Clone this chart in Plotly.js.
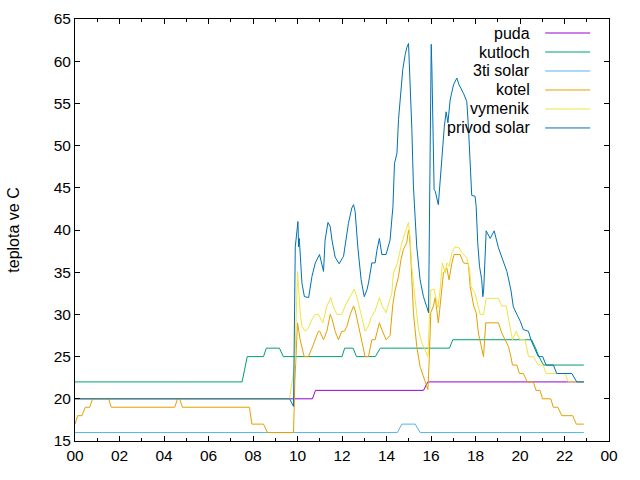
<!DOCTYPE html>
<html>
<head>
<meta charset="utf-8">
<script src="https://cdn.plot.ly/plotly-3.0.1.min.js"></script>
<style>html,body{margin:0;padding:0;background:#fff;}#chart{width:640px;height:480px;}</style>
</head>
<body>
<div id="chart"></div>
<script>
const seriesNames = ["puda", "kutloch", "3ti solar", "kotel", "vymenik", "privod solar"];
const seriesColors = ["#9400d3", "#009e73", "#56b4e9", "#e69f00", "#f0e442", "#0072b2"];

const xTickVals = [0, 2, 4, 6, 8, 10, 12, 14, 16, 18, 20, 22, 24];
const xTickText = ["00", "02", "04", "06", "08", "10", "12", "14", "16", "18", "20", "22", "00"];

const puda_t = [0, 10.67, 10.81, 15.66, 15.86, 22.87];
const puda_v = [20, 20, 21, 21, 22, 22];

const kutloch_t = [0, 7.51, 7.74, 8.47, 8.6, 9.19, 9.36, 12.0, 12.12, 12.5, 12.65, 13.5, 13.72, 16.83, 16.98, 20.52, 20.7, 20.85, 21.06, 22.87];
const kutloch_v = [22, 22, 25, 25, 26, 26, 25, 25, 26, 26, 25, 25, 26, 26, 27, 27, 26, 25, 24, 24];

const solar3_t = [0, 14.49, 14.69, 15.29, 15.51, 22.87];
const solar3_v = [16, 16, 17, 17, 16, 16];

const kotel_t = [0,0.12,0.31,0.46,0.66,0.79,1.51,1.63,4.48,4.61,4.70,4.83,7.84,7.95,8.47,8.65,9.82,9.88,10.00,10.12,10.30,10.49,10.65,10.80,10.94,11.00,11.17,11.32,11.47,11.55,11.69,11.84,11.99,12.11,12.22,12.37,12.52,12.59,12.74,12.89,13.04,13.19,13.34,13.49,13.68,13.79,13.98,14.16,14.29,14.39,14.54,14.65,14.76,14.91,14.99,15.03,15.09,15.21,15.36,15.51,15.66,15.78,15.86,15.92,15.99,16.11,16.19,16.33,16.46,16.56,16.71,16.81,16.94,17.04,17.31,17.46,17.68,17.76,17.91,18.03,18.13,18.28,18.36,18.46,19.03,19.18,19.33,19.48,19.59,19.66,19.86,19.97,20.15,20.33,20.60,20.72,20.90,21.01,21.38,21.50,21.70,21.88,22.37,22.53,22.87];
const kotel_v = [17,18,18,19,19,20,20,19,19,20,20,19,19,17,17,16,16,22,29,27,25,25,26,27,28,28,27,28,30,29.5,28,27,28,28,28.6,30,31,30.5,28.6,26.6,25,25,27,27,29,28.2,27,27.5,31.3,32.9,34.5,36.5,37.7,38.5,40,39.5,37,30.2,26.2,23.8,22.6,21.9,21.1,24.6,30.2,31,32,29,32.5,34.9,35.5,34.1,36.1,37.1,37.1,36.1,36,33.3,31.1,30.2,27.8,25.8,25,29,29,27.8,27,26.2,25,24,24,23,23,22,22,21,21,20,20,19,19,18,18,17,17];

const vymenik_t = [0,9.64,9.79,9.88,10.00,10.12,10.20,10.35,10.49,10.65,10.80,10.94,11.14,11.32,11.50,11.62,11.77,11.99,12.14,12.29,12.55,12.67,12.82,12.97,13.04,13.19,13.30,13.49,13.68,13.79,13.98,14.16,14.24,14.31,14.49,14.69,14.84,14.99,15.06,15.14,15.29,15.44,15.59,15.74,15.86,15.93,15.99,16.14,16.26,16.31,16.41,16.51,16.64,16.71,16.81,16.94,17.08,17.26,17.39,17.61,17.73,17.80,17.98,18.10,18.21,18.36,18.48,19.03,19.18,19.38,19.48,19.66,19.83,20.00,20.23,20.38,20.60,20.82,21.04,21.17,22.03,22.17,22.87];
const vymenik_v = [20,20,22.6,24,35.1,30.2,28.6,28,28.4,29.4,30,30,29,31,32,30.8,30,30,31,31.8,33,32.1,30.3,28.6,28,28.6,29.6,30.4,32,31.1,30.2,31.8,32.5,34.9,36.1,38.5,39.6,40.9,39,35.5,31.7,28.2,26.6,25.8,25,29.4,32.9,33,31.2,30.8,32.9,36.1,34.9,36.1,35.7,37.3,38,37.9,37.3,36.7,35.3,33.3,32.5,31,30,30,31.9,31.9,31,31,29.4,27,28,27,27,25,25,24,24,23,23,22,22];

const privod_t = [0,9.64,9.82,9.90,10.02,10.05,10.08,10.20,10.31,10.50,10.65,10.80,10.99,11.10,11.17,11.24,11.37,11.47,11.55,11.69,11.87,12.07,12.29,12.44,12.52,12.59,12.71,12.86,13.00,13.12,13.19,13.34,13.49,13.57,13.68,13.79,13.98,14.16,14.29,14.36,14.47,14.54,14.65,14.73,14.84,14.91,14.99,15.06,15.14,15.21,15.29,15.36,15.51,15.66,15.81,15.89,16.01,16.04,16.14,16.19,16.33,16.41,16.49,16.60,16.68,16.76,16.86,17.01,17.16,17.26,17.46,17.61,17.68,17.76,17.83,17.98,18.03,18.10,18.18,18.28,18.33,18.37,18.43,18.48,18.66,18.84,19.03,19.18,19.41,19.59,19.70,19.86,20.01,20.15,20.38,20.49,20.68,20.82,21.02,21.17,21.50,21.65,22.33,22.55,22.87];
const privod_v = [20,20,19.1,38,41,38,39,33.7,32.1,32,34.5,36.1,37.1,36,35.1,38.8,40.9,40.4,38.8,36.8,36,36.9,40.8,42.6,43,42.2,38,34.1,32.1,32.9,33.7,36.1,36.1,37.6,39,37.1,37.1,38.8,42.8,47.9,49.1,53.1,57,59,60.8,61.6,62.1,57.8,51.9,45.2,40.8,38,34.1,32.1,30.9,30.2,62,59.2,44.8,44.6,43,46,48.7,52.3,54,52.7,55.4,57.2,58,57.2,56.2,55.2,52.3,48.3,44.1,44,42.8,38.5,35.7,34.1,32.1,33,36.5,39.9,39,39.9,37.9,36.7,35.1,32.9,30.9,30,29.2,28.2,28,27,25.8,25,25,24,24,23,23,22,22];

const xs = [puda_t, kutloch_t, solar3_t, kotel_t, vymenik_t, privod_t];
const ys = [puda_v, kutloch_v, solar3_v, kotel_v, vymenik_v, privod_v];

const FONT = "Liberation Sans, Arial, sans-serif";

const traces = seriesNames.map((n, i) => ({
  x: xs[i], y: ys[i], name: n, type: "scatter", mode: "lines",
  line: {color: seriesColors[i], width: 1},
  showlegend: false, hoverinfo: "skip"
}));

// gnuplot-style key: text right-aligned, sample line to the right
const annotations = [];
const shapes = [];
seriesNames.forEach((n, i) => {
  const yy = 0.9668 - i * 0.045;
  annotations.push({
    xref: "paper", yref: "paper", x: 0.8555, y: yy, xanchor: "right", yanchor: "middle",
    text: n, showarrow: false, font: {family: FONT, size: 16, color: "#000"}
  });
  shapes.push({
    type: "line", xref: "paper", yref: "paper", x0: 0.8805, x1: 0.9647, y0: yy, y1: yy,
    line: {color: seriesColors[i], width: 1}
  });
});

const layout = {
  width: 640, height: 480,
  margin: {l: 75, r: 31, t: 19, b: 39, pad: 0},
  paper_bgcolor: "#fff", plot_bgcolor: "#fff",
  font: {family: FONT, size: 15.5, color: "#000"},
  xaxis: {
    range: [0, 24], tickmode: "array", tickvals: xTickVals, ticktext: xTickText,
    ticks: "inside", ticklen: 5, tickwidth: 1, tickcolor: "#000",
    minor: {tickmode: "linear", tick0: 0, dtick: 1, ticks: "inside", ticklen: 3, tickcolor: "#000", tickwidth: 1},
    showline: true, linecolor: "#000", linewidth: 1, mirror: "ticks",
    showgrid: false, zeroline: false, fixedrange: true,
    tickfont: {family: FONT, size: 15.5, color: "#000"}
  },
  yaxis: {
    range: [15, 65], tickmode: "linear", tick0: 15, dtick: 5,
    ticks: "inside", ticklen: 5, tickwidth: 1, tickcolor: "#000",
    showline: true, linecolor: "#000", linewidth: 1, mirror: "ticks",
    showgrid: false, zeroline: false, fixedrange: true,
    tickfont: {family: FONT, size: 15.5, color: "#000"},
    title: {text: "teplota ve C", font: {family: FONT, size: 16, color: "#000"}, standoff: 30}
  },
  annotations: annotations,
  shapes: shapes
};

Plotly.newPlot("chart", traces, layout, {staticPlot: true, displayModeBar: false});
</script>
</body>
</html>
